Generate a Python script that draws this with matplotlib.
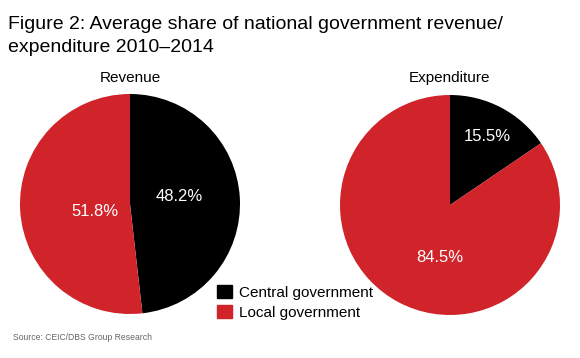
import matplotlib.pyplot as plt
from matplotlib.patches import Patch

plt.rcParams['font.family'] = ['Liberation Sans', 'DejaVu Sans']

series = ["Central government", "Local government"]
revenue = [48.2, 51.8]
expenditure = [15.5, 84.5]
colors = ["#000000", "#d1232a"]

W, H = 580, 358
fig = plt.figure(figsize=(W / 100, H / 100), dpi=100)


def px_axes(cx, cy, r):
    return fig.add_axes([(cx - r) / W, 1 - (cy + r) / H, 2 * r / W, 2 * r / H])


# pie centre (px), title, values, where the % labels sit (radius units)
pies = [
    (130, 204, "Revenue", revenue, [(0.45, 0.07), (-0.32, -0.07)]),
    (450, 205, "Expenditure", expenditure, [(0.34, 0.62), (-0.09, -0.48)]),
]

for cx, cy, title, vals, label_pos in pies:
    ax = px_axes(cx, cy, 110)
    wedges, _, autotexts = ax.pie(vals, colors=colors, startangle=90, counterclock=False,
                                  autopct="%.1f%%",
                                  textprops=dict(color="white", fontsize=12))
    for t, pos in zip(autotexts, label_pos):
        t.set_position(pos)
    ax.set_xlim(-1, 1)
    ax.set_ylim(-1, 1)
    ax.set_aspect("equal")
    fig.text(cx / W, 1 - 78 / H, title, ha="center", va="center", fontsize=11)

fig.text(8 / W, 1 - 29 / H, "Figure 2: Average share of national government revenue/",
         ha="left", va="baseline", fontsize=14)
fig.text(8 / W, 1 - 52 / H, "expenditure 2010\u20132014",
         ha="left", va="baseline", fontsize=14)

handles = [Patch(color=c) for c in colors]
fig.legend(handles, series, loc="upper left", bbox_to_anchor=(211 / W, 1 - 279 / H),
           frameon=False, fontsize=11, handlelength=0.95, handleheight=0.95,
           handletextpad=0.5, labelspacing=0.35, borderaxespad=0)

fig.text(13 / W, 1 - 338 / H, "Source: CEIC/DBS Group Research", ha="left", va="center",
         fontsize=6.2, color="#666666")

fig.savefig("out.png", dpi=100)
